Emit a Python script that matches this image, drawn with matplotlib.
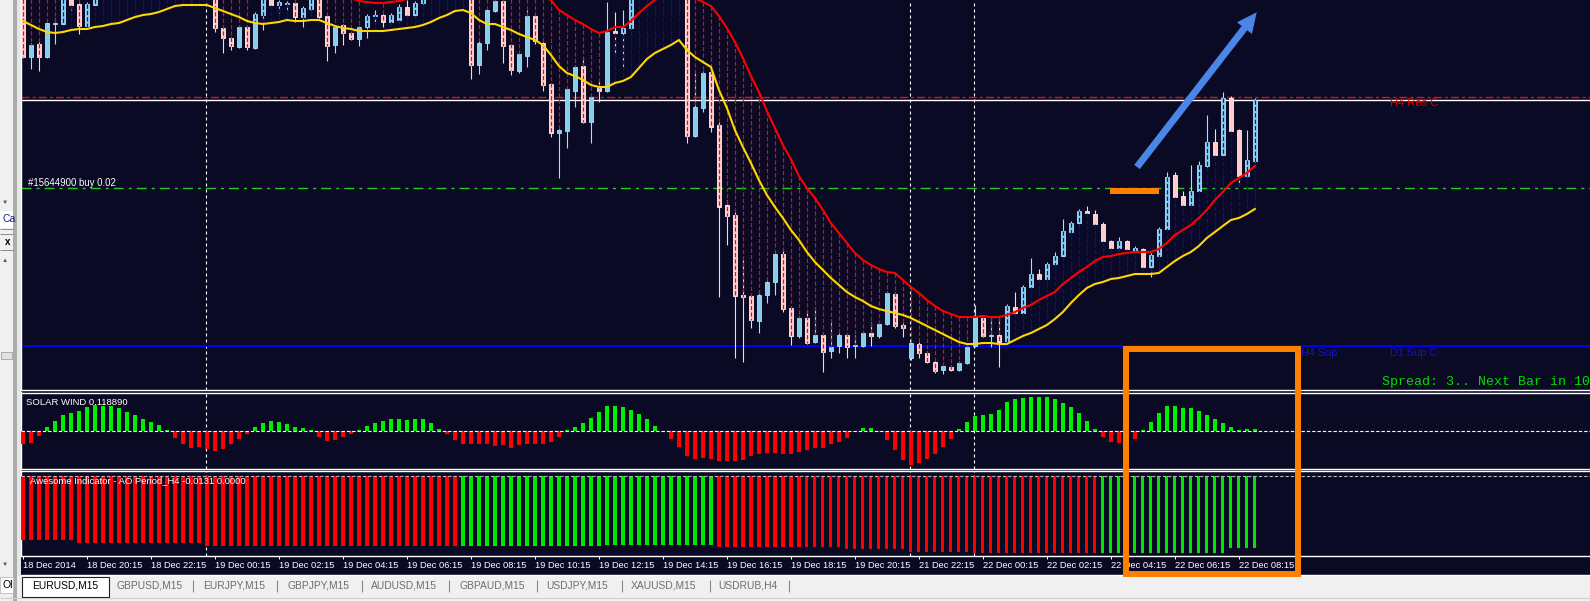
"""
MT4 style EURUSD M15 screenshot: candles with two MAs, SOLAR WIND and AO sub windows.
Main window values are in screen units (0 = top edge, larger = lower price).
"""
import numpy as np
import matplotlib
matplotlib.use("Agg")
import matplotlib.pyplot as plt
from matplotlib.patches import Rectangle, FancyArrow

plt.rcParams["font.family"] = ["Liberation Sans", "DejaVu Sans"]

W, H = 1590, 601
NAVY = "#0a0a24"

# ---------------- data ----------------
open_ = [-6, 57, 44, 57, 23.5, 24, -2, 4, 26, 5,
         -3, -10, -16, -12, -20, -26, -21, -28, -33, -27,
         -32, -20, -8, -14, -3, 28, 38, 47, 27, 48,
         15, -3, 5, 3.5, 3, 17, 9, -2, 16, 45,
         25, 33, 39, 27, 15.5, 15, 22, 20, 7, 15,
         3, -2, -8, -5, -12, -18, -10, 65, 43, 11,
         1, 45, 71, 56, 16, 43, 84, 133, 131, 91,
         66, 122, 88, 91, 31, 33, 28, -3, -10, -6,
         -14, -20, -12, -15, 136, 108, 72, 125, 205, 215,
         295, 296, 321, 295, 282, 254, 308, 336, 318, 342,
         335, 351, 346, 335, 345.5, 346, 333, 336, 324, 294,
         325, 358, 344, 353, 362, 370, 367, 370, 363, 346,
         318, 335.5, 335, 341, 307, 313, 287, 274, 279, 264,
         256, 232, 223, 211, 214, 224, 241, 248, 241, 251,
         249, 267, 256, 229, 175, 196, 205, 191, 166, 142,
         155, 98, 130, 176, 161]
high_ = [-8, 43, 42, 22, 18, -5, -4, 2, 2, -5,
         -13, -18, -19, -22, -29, -28, -31, -36, -35, -34,
         -33, -22, -16, -15, -5, 27, 37, 25, 26, 12,
         -6, -5, 0, 1, 2, 6, -4, -4, 15, 25,
         24, 32, 26, 14, 10, 14, 13, 4, 0, 1,
         -4, -10, -12, -14, -21, -20, -12, 40, 8, -1,
         -1, 44, 52, 10, 14, 42, 83, 128, 87, 65,
         57, 95, 80, 2, 12, 10, -6, -12, -14, -17,
         -23, -22, -19, -17, 73, 71, 65, 122, 200, 212,
         260, 294, 290, 278, 250, 250, 306, 316, 310, 308,
         333, 322, 333, 333, 335, 331, 322, 322, 291, 292,
         323, 341, 342, 351, 360, 364, 365, 361, 345, 305,
         315, 318, 317, 304, 292, 285, 258, 269, 262, 252,
         219, 221, 209, 206, 210, 222, 240, 237, 240, 246,
         248, 253, 227, 172, 172, 191, 165, 161, 115, 129,
         92, 96, 129, 130, 98]
low_ = [58, 69, 71, 58, 44, 25, 10, 34, 27, 6,
        -1, -8, -10, -10, -18, -19, -19, -26, -25, -24,
        -17, 3, -5, -2, 32, 53, 50, 48, 50, 49,
        30, 6, 13, 10, 22, 27, 10, 18, 61, 53,
        45, 40, 46, 38, 23, 27, 23, 21, 16, 16,
        4, -1, -3, -4, -10, -8, 79, 74, 50, 12,
        63, 75, 73, 67, 44, 91, 137, 178, 148, 107,
        123, 143, 102, 92, 55, 67, 29, -1, -4, -4,
        -12, -10, -10, 143, 137, 112, 132, 297, 245, 358,
        362, 328, 333, 303, 295, 312, 345, 338, 344, 343,
        372, 358, 353, 358, 358, 347, 346, 338, 325, 328,
        337, 360, 358, 363, 373, 374, 371, 371, 364, 347,
        337, 347, 367, 342, 314, 314, 288, 280, 280, 265,
        257, 233, 224, 214, 225, 242, 249, 249, 250, 252,
        268, 277, 257, 230, 198, 206, 206, 192, 167, 156,
        156, 132, 186, 177, 162]
close_ = [57, 45, 57, 23, 23, -3, 5, 26, 4, -2,
          -10, -16, -12, -20, -26, -21, -28, -33, -27, -32,
          -20, -8, -14, -4, 28, 38, 46, 27, 47, 14,
          -3, 5, 2, 3, 17, 8, -2, 17, 46, 27,
          33, 39, 27, 16, 15, 22, 15, 7, 15, 3,
          -2, -8, -5, -12, -18, -10, 65, 43, 10, 1,
          46, 70, 54, 16, 41, 85, 133, 130, 89, 67,
          122, 97, 91, 32, 33, 28, -3, -10, -6, -14,
          -20, -12, -16, 136, 107, 73, 127, 207, 216, 296,
          297, 320, 295, 282, 254, 309, 336, 318, 343, 335,
          352, 347, 335, 347, 345, 333, 336, 324, 293, 326,
          328, 343, 353, 362, 371, 366, 370, 363, 347, 317,
          336, 335, 342, 306, 313, 287, 274, 279, 264, 256,
          231, 223, 211, 213, 224, 241, 248, 241, 249, 248,
          267, 255, 229, 177, 197, 205, 191, 165, 142, 155,
          98, 131, 176, 160, 100]

ma_red = [-30, -32, -33, -34, -35, -36, -37, -38, -39, -40,
          -42, -44, -46, -48, -50, -52, -53, -54, -55, -55,
          -54, -52, -50, -47, -43, -38, -33, -28, -24, -20,
          -17, -15, -13, -12, -11, -10, -9, -8, -7, -5,
          -4, -2, 1, 2, 3, 3, 2, 1, -1, -3,
          -5, -7, -9, -11, -13, -15, -15, -14, -13, -12,
          -11, -10, -9, -8, -6, -3, 0, 10, 15, 20,
          24, 29, 33, 31, 27, 27, 21, 13, 6, 0,
          -4, -7, -8, -6, -2, 2, 6, 16, 28, 42,
          58, 76, 92, 111, 128, 145, 159, 176, 188, 198,
          210, 223, 233, 243, 253, 260, 265, 269, 272, 273,
          280, 287, 293, 300, 306, 311, 314, 317, 317, 317,
          316, 317, 317, 315, 312, 308, 305, 300, 296, 292,
          284, 278, 272, 267, 261, 257, 256, 254, 253, 252,
          252, 252, 249, 243, 235, 230, 225, 218, 210, 200,
          192, 183, 178, 173, 166]
ma_yellow = [21, 25, 29, 32, 33, 32, 30, 29, 29, 27,
             26, 24, 23, 20, 17, 15, 14, 12, 9, 6,
             5, 5, 5, 5, 8, 11, 14, 17, 21, 23,
             24, 23, 22, 20, 21, 21, 20, 20, 23, 26,
             28, 29, 31, 31, 31, 31, 30, 29, 28, 27,
             25, 22, 18, 15, 11, 10, 13, 20, 24, 24,
             27, 30, 34, 37, 40, 45, 55, 66, 73, 76,
             80, 85, 87, 87, 83, 81, 77, 68, 59, 53,
             49, 45, 40, 50, 57, 62, 67, 90, 108, 130,
             147, 163, 180, 195, 207, 218, 230, 240, 252, 262,
             270, 278, 285, 292, 297, 301, 306, 309, 311, 313,
             315, 318, 322, 326, 330, 334, 338, 342, 344, 344,
             343, 343, 344, 344, 340, 336, 333, 329, 325, 319,
             312, 303, 295, 288, 284, 282, 279, 278, 276, 274,
             274, 274, 273, 267, 261, 256, 252, 246, 238, 232,
             226, 220, 218, 214, 209]

# colour of the dotted ribbon lines: 'd' = red (MA to close), 'u' = blue (close to yellow MA)
dash_runs = [(0, 4, "d"), (5, 6, "u"), (7, 7, "d"), (8, 23, "u"), (24, 28, "d"),
             (29, 33, "u"), (34, 34, "d"), (35, 36, "u"), (37, 42, "d"), (43, 44, "u"),
             (45, 45, "d"), (46, 55, "u"), (56, 73, "d"), (74, 82, "u"),
             (83, 122, "d"), (123, 154, "u")]

solar_wind = [-13.5, -12, -5, 4, 10, 16, 18, 20, 24, 26,
              25, 25, 23, 19, 16, 12, 9, 6, 0.5, -7,
              -13.5, -17, -16, -18.6, -20, -18, -13.5, -8, -3, 4,
              8, 10, 9, 7, 4, 3, 0.5, -6, -10, -9,
              -6, -3, 1, 5, 8, 10, 12, 12, 11, 12,
              12, 8, 2, -3.4, -9, -13.5, -13.5, -13.5, -13, -15,
              -14, -17, -14, -13.5, -13, -13.5, -11, -6, 1, 4,
              7.5, 12.5, 19, 24.7, 25, 23.7, 21, 17, 12, 5,
              -1.7, -8, -16, -25, -28, -27, -28, -30, -30.4, -30.4,
              -29.4, -25, -23, -22, -22, -23, -23, -21, -19, -17.6,
              -17, -13.5, -11, -6.8, -1.7, 3, 3, -1.7, -9, -19,
              -29.4, -33.8, -32, -28, -23, -16, -8, 1.7, 9, 14.5,
              15.5, 17, 21, 28.6, 31.4, 32.5, 33.5, 33.5, 33.5, 31.4,
              27.7, 23.7, 17.6, 10, 1.7, -6, -11, -12, -10, -8,
              0.5, 9, 18, 24.3, 24.3, 22.3, 22.3, 19.3, 16.2, 12.2,
              8, 4, 1, 1.4, 2]

awesome = [-64.2, -64.2, -64.2, -64.2, -64.2, -64.2, -64.2, -67.3, -67.3, -67.3,
           -67.3, -67.3, -67.3, -67.3, -67.3, -67.3, -67.3, -67.3, -67.3, -67.3,
           -67.3, -67.3, -67.3, -70, -70, -70, -70, -70, -70, -70,
           -70, -70, -70, -70, -70, -70, -70, -70, -70, -70,
           -70, -70, -70, -70, -70, -70, -70, -70, -70, -70,
           -70, -70, -70, -70, -70, -70, -70, -70, -70, -70,
           -70, -70, -70, -70, -70, -70, -70, -70, -70, -70,
           -70, -70, -70, -69.3, -69.3, -69.3, -69.3, -69.3, -69.3, -69.3,
           -69.3, -69.3, -69.3, -69.3, -69.3, -69.3, -69.3, -71, -71, -71,
           -71, -71, -71, -71, -71, -71, -71, -71, -71, -71,
           -71, -71, -71, -73.3, -73.3, -73.3, -73.3, -73.3, -73.3, -73.3,
           -73.3, -76.7, -76.7, -76.7, -76.7, -76.7, -76.7, -76.7, -76.7, -77.4,
           -77.4, -77.4, -77.4, -77.4, -77.4, -77.4, -77.4, -77.4, -77.4, -77.4,
           -77.4, -77.4, -77.4, -77.4, -77.4, -77.4, -77.4, -77.4, -77.4, -77.4,
           -77.4, -77.4, -77.4, -77.4, -77.4, -77.4, -77.4, -77.4, -77.4, -77.4,
           -77.4, -72.3, -72.3, -72.3, -72.3]
ao_green_runs = [(55, 86), (135, 154)]

levels = {"h4_res": 97, "close_line": 100, "buy": 188, "h4_sup": 346}
sep_idx = [22.9, 110.9, 118.9]

tick_idx = list(range(0, 153, 8))
tick_lbl = ["18 Dec 2014", "18 Dec 20:15", "18 Dec 22:15", "19 Dec 00:15", "19 Dec 02:15",
            "19 Dec 04:15", "19 Dec 06:15", "19 Dec 08:15", "19 Dec 10:15", "19 Dec 12:15",
            "19 Dec 14:15", "19 Dec 16:15", "19 Dec 18:15", "19 Dec 20:15", "21 Dec 22:15",
            "22 Dec 00:15", "22 Dec 02:15", "22 Dec 04:15", "22 Dec 06:15", "22 Dec 08:15"]
tabs = ["EURUSD,M15", "GBPUSD,M15", "EURJPY,M15", "GBPJPY,M15", "AUDUSD,M15",
        "GBPAUD,M15", "USDJPY,M15", "XAUUSD,M15", "USDRUB,H4"]

n = len(open_)
for arr in (high_, low_, close_, ma_red, ma_yellow, solar_wind, awesome):
    assert len(arr) == n, len(arr)

idx = np.arange(n)
o, h, l, c = (np.array(a, float) for a in (open_, high_, low_, close_))
red, yel = np.array(ma_red, float), np.array(ma_yellow, float)
sw, ao = np.array(solar_wind), np.array(awesome)

# ---------------- figure ----------------
fig = plt.figure(figsize=(W / 100, H / 100), dpi=100, facecolor="#f0f0f0")


def panel(x0, y0, x1, y1):
    return fig.add_axes([x0 / W, 1 - y1 / H, (x1 - x0) / W, (y1 - y0) / H])


back = panel(0, 0, W, H)
back.set_xlim(0, W); back.set_ylim(H, 0); back.axis("off")
back.add_patch(Rectangle((21, 0), W - 21, 575, color=NAVY, lw=0))
back.add_patch(Rectangle((12.7, 0), 4.6, 601, color="#ababab", lw=0))
back.add_patch(Rectangle((17.3, 0), 3.7, 576, color="#e6e6e6", lw=0))
back.hlines(574.5, 21, W, color="white", lw=1)
back.hlines(597.5, 0, W, color="#cfcfcf", lw=0.8)
back.add_patch(Rectangle((21.5, 576.5), 87.5, 20, fc="white", ec="#202020", lw=0.8))
for sx in [193, 277, 362, 449, 537.4, 622, 710, 789]:
    back.vlines(sx, 580, 592, color="#8a8a8a", lw=0.8)
back.add_patch(Rectangle((0, 211), 12.7, 17, color="white", lw=0))
back.add_patch(Rectangle((0, 576.5), 12.7, 16, fc="white", ec="#bcbcbc", lw=0.6))
back.add_patch(Rectangle((0.5, 352), 11.5, 7, fc="#e2e2e2", ec="#a0a0a0", lw=0.6))
back.hlines([228.5, 233.5, 249.5], 0, 12.7, color="#8a8a8a", lw=0.7)


def style(ax, top):
    ax.set_facecolor(NAVY)
    ax.set_xlim(-0.25, 195.9)
    ax.set_xticks([]); ax.set_yticks([])
    for sp in ax.spines.values():
        sp.set_color("white"); sp.set_linewidth(1.0)
    ax.spines["right"].set_visible(False)
    ax.spines["top"].set_visible(top)
    for s in sep_idx:
        ax.axvline(s, color="white", lw=0.8, dashes=(2.7, 2.7), zorder=1)


# main window
ax = panel(21, 0, W, 390)
style(ax, False)
ax.set_ylim(390, 0)
ax.axhline(levels["h4_res"], color="#e01010", lw=1, dashes=(5.8, 2.2, 2.2, 2.2), zorder=2)
ax.axhline(levels["close_line"], color="white", lw=1, zorder=2)
ax.axhline(levels["buy"], color="#22cc22", lw=1, dashes=(7.2, 3.6, 2.2, 3.6), zorder=2)
ax.axhline(levels["h4_sup"], color="#0000ff", lw=1.4, zorder=2)

bull = c < o
ax.vlines(idx[bull], h[bull], l[bull], color="#a6e2f2", lw=0.8, zorder=3)
ax.vlines(idx[~bull], h[~bull], l[~bull], color="#f6dcc4", lw=0.8, zorder=3)
ax.bar(idx[bull], (c - o)[bull], bottom=o[bull], width=0.58,
       color="#87ceeb", edgecolor="#a8e0ff", lw=0.6, zorder=4)
ax.bar(idx[~bull], (c - o)[~bull], bottom=o[~bull], width=0.58,
       color="#ffcccc", edgecolor="#fff3f3", lw=0.6, zorder=4)

up = np.zeros(n, bool)
for a, b, kind in dash_runs:
    up[a:b + 1] = kind == "u"
ax.vlines(idx[up], c[up], yel[up], colors="#0000ff", lw=0.85,
          linestyles=[(0, (3.6, 1.8))], zorder=5)
ax.vlines(idx[~up], red[~up], c[~up], colors="#ff0000", lw=0.85,
          linestyles=[(0, (3.6, 1.8))], zorder=5)
ax.plot(idx, yel, color="#ffd700", lw=1.5, zorder=6)
ax.plot(idx, red, color="#ff0000", lw=1.5, zorder=6)

# SOLAR WIND
ax_sw = panel(21, 392.5, W, 468.6)
style(ax_sw, True)
ax_sw.set_ylim(-37.9, 38.2)
ax_sw.bar(idx, sw, width=0.42, color=np.where(sw > 0, "#00ee00", "#ff0000"), lw=0, zorder=3)
ax_sw.axhline(0, color="white", lw=0.8, dashes=(3, 1.8), zorder=4)

# Awesome
ax_ao = panel(21, 470.6, W, 555.8)
style(ax_ao, True)
ax_ao.set_ylim(-80.1, 5.1)
ao_col = np.array(["#ff0000"] * n, dtype=object)
for a, b in ao_green_runs:
    ao_col[a:b + 1] = "#00e600"
ax_ao.bar(idx, ao, width=0.4, color=list(ao_col), lw=0, zorder=3)
ax_ao.axhline(0, color="#b8b8b8", lw=0.8, dashes=(3, 1.8), zorder=4)
ax_ao.set_xticks(tick_idx)
ax_ao.set_xticklabels(tick_lbl, ha="left", fontsize=6.7, color="white")
ax_ao.tick_params(axis="x", length=2.2, width=0.7, color="white", pad=1.6, direction="out")

# ---------------- overlay: labels and hand drawn marks ----------------
top = panel(0, 0, W, H)
top.set_xlim(0, W); top.set_ylim(H, 0); top.axis("off")

top.text(28, 183, "#15644900 buy 0.02", color="white", fontsize=6.9, va="center")
top.text(1390, 103.5, "H4 Res C", color="#d40000", fontsize=8, va="center")
top.text(1301, 353, "H4 Sup", color="#1414c8", fontsize=7.8, va="center")
top.text(1390, 353, "D1 Sup C", color="#1414c8", fontsize=7.8, va="center")
top.text(1382, 382, "Spread: 3.. Next Bar in 10", color="#00dd00", fontsize=9.6,
         family="Liberation Mono", va="center")
top.text(26, 402.5, "SOLAR WIND 0.118890", color="white", fontsize=6.8, va="center")
top.text(30, 480.5, "Awesome Indicator - AO Period_H4 -0.0131 0.0000", color="white",
         fontsize=6.8, va="center")

tab_x = [65, 150, 234, 319, 404, 492.6, 577, 664, 748]
for i, (tx, name) in enumerate(zip(tab_x, tabs)):
    top.text(tx, 586, name, fontsize=7.4, ha="center", va="center",
             color="black" if i == 0 else "#6e6e6e")

top.text(4.5, 202, "\u25bc", fontsize=4.5, color="#555555", ha="center", va="center")
top.text(4.5, 260, "\u25b2", fontsize=4.5, color="#555555", ha="center", va="center")
top.text(4.5, 564, "\u25bc", fontsize=4.5, color="#555555", ha="center", va="center")
top.text(7.5, 242, "x", fontsize=7, color="black", ha="center", va="center", weight="bold")
t = top.text(2.5, 219.5, "Ca", fontsize=7.5, color="#1a1a80", va="center")
t.set_clip_path(Rectangle((0, 211), 12.7, 17, transform=top.transData))
t2 = top.text(2.5, 584.5, "Ol", fontsize=7.5, color="black", va="center")
t2.set_clip_path(Rectangle((0, 576), 12.7, 16, transform=top.transData))

top.add_patch(Rectangle((1110, 188.3), 49, 5.7, color="#ff7f00", lw=0))
top.add_patch(FancyArrow(1137, 167, 1256.7 - 1137, 12.3 - 167, width=7, head_width=19,
                         head_length=20, length_includes_head=True, color="#4a86e8", lw=0))
top.add_patch(Rectangle((1126, 349), 172, 225, fill=False, ec="#ff7f00", lw=4.3,
                        joinstyle="miter"))

fig.savefig("out.png", dpi=100, facecolor=fig.get_facecolor())
print("saved out.png")
